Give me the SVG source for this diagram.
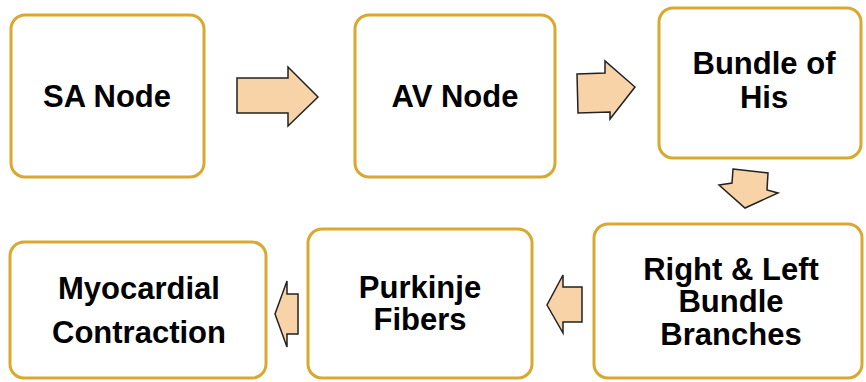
<svg xmlns="http://www.w3.org/2000/svg" width="866" height="382" viewBox="0 0 866 382">
<style>
.box{fill:#ffffff;stroke:#D9A82E;stroke-width:3}
.lbl{font-family:"Liberation Sans",Arial,sans-serif;font-weight:bold;font-size:31px;fill:#000;text-anchor:middle}
.arr{fill:#F7D3A7;stroke:#222;stroke-width:1.5;stroke-linejoin:miter}
</style>
<rect width="866" height="382" fill="#ffffff"/>
<g id="connectors">
<polygon class="arr" points="237,78 288,78 288,67 318,97 288,126 288,113 237,113"/>
<polygon class="arr" points="577,74 605,73 605,61 635,87 610,119 610,112 578,113"/>
<polygon class="arr" points="733,169 768,173 767,190 778,193 745,208 719,185 732,183"/>
<polygon class="arr" points="582,287 563,287 563,275 547,305 563,333 563,322 582,322"/>
<polygon class="arr" points="298,294 287,294 287,281 275,314 287,347 287,334 298,334"/>
</g>
<g id="sa-node">
<rect class="box" x="11" y="15" width="193" height="162" rx="14"/>
<text class="lbl" x="107" y="107">SA Node</text>
</g>
<g id="av-node">
<rect class="box" x="355" y="15" width="200" height="162" rx="14"/>
<text class="lbl" x="455" y="107">AV Node</text>
</g>
<g id="bundle-of-his">
<rect class="box" x="659" y="8" width="202" height="150" rx="14"/>
<text class="lbl" x="764" y="74">Bundle of</text>
<text class="lbl" x="764" y="108">His</text>
</g>
<g id="bundle-branches">
<rect class="box" x="594" y="224" width="268" height="154" rx="14"/>
<text class="lbl" x="731" y="280">Right &amp; Left</text>
<text class="lbl" x="731" y="312">Bundle</text>
<text class="lbl" x="731" y="345">Branches</text>
</g>
<g id="purkinje-fibers">
<rect class="box" x="308" y="229" width="224" height="149" rx="14"/>
<text class="lbl" x="420" y="298">Purkinje</text>
<text class="lbl" x="420" y="330">Fibers</text>
</g>
<g id="myocardial-contraction">
<rect class="box" x="10" y="242" width="256" height="136" rx="14"/>
<text class="lbl" x="139" y="299">Myocardial</text>
<text class="lbl" x="139" y="343">Contraction</text>
</g>
</svg>
